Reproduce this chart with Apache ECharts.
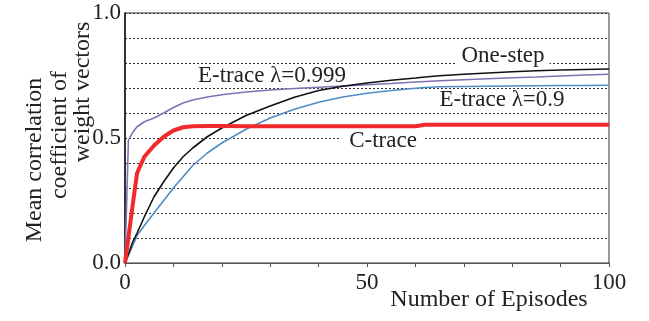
<!DOCTYPE html>
<html>
<head>
<meta charset="utf-8">
<script src="https://cdn.jsdelivr.net/npm/echarts@6/dist/echarts.min.js"></script>
<style>
  html, body { margin: 0; padding: 0; background: #fff; }
  #chart { width: 649px; height: 321px; }
</style>
</head>
<body>
<div id="chart"></div>
<script>
// episodes shared by all curves
var episodes = [0, 0.7, 1.5, 2.5, 4, 6, 8, 10, 12, 14, 17, 20, 25, 30, 35, 40, 45, 50, 55, 60, 62, 65, 70, 75, 80, 85, 90, 95, 100];

var oneStep = [0, 0.035, 0.08, 0.12, 0.185, 0.265, 0.325, 0.38, 0.425, 0.46, 0.505, 0.54, 0.59, 0.628, 0.663, 0.69, 0.707, 0.72, 0.731, 0.74, 0.744, 0.749, 0.755, 0.76, 0.765, 0.769, 0.772, 0.774, 0.776];
var eTrace999 = [0, 0.49, 0.52, 0.545, 0.565, 0.58, 0.60, 0.622, 0.64, 0.652, 0.664, 0.673, 0.684, 0.692, 0.698, 0.703, 0.708, 0.713, 0.718, 0.724, 0.726, 0.729, 0.733, 0.737, 0.741, 0.744, 0.748, 0.752, 0.755];
var eTrace09 = [0, 0.03, 0.065, 0.11, 0.15, 0.2, 0.25, 0.3, 0.345, 0.39, 0.44, 0.48, 0.535, 0.58, 0.615, 0.643, 0.664, 0.679, 0.69, 0.699, 0.702, 0.705, 0.706, 0.707, 0.708, 0.709, 0.71, 0.71, 0.711];
var cTrace = [0, 0.1, 0.22, 0.36, 0.425, 0.47, 0.505, 0.53, 0.543, 0.547, 0.548, 0.548, 0.547, 0.547, 0.547, 0.547, 0.547, 0.547, 0.547, 0.547, 0.553, 0.553, 0.553, 0.553, 0.553, 0.553, 0.553, 0.553, 0.553];

var xTickLabels = [0, 50, 100];
var yTickLabels = [0, 0.5, 1.0];

var serif = 'Liberation Serif';

function pairs(vals) {
  return episodes.map(function (e, i) { return [e, vals[i]]; });
}

function label(text, x, y, opts) {
  opts = opts || {};
  var st = {
    text: text, fontFamily: serif, fontSize: opts.size || 23, fill: '#222',
    align: 'center', verticalAlign: 'middle'
  };
  if (opts.bg) { st.backgroundColor = '#fff'; st.padding = opts.bg; }
  return { type: 'text', x: x, y: y, rotation: opts.rot || 0, z: 100, style: st };
}

var myChart = echarts.init(document.getElementById('chart'));

var option = {
  animation: false,
  grid: {
    left: 125, right: 40, top: 13, bottom: 58,
    show: true, borderColor: '#333', borderWidth: 1
  },
  xAxis: {
    type: 'value', min: 0, max: 100, interval: 10,
    axisLine: { lineStyle: { color: '#555', width: 1.2 } },
    axisTick: { show: true, inside: false, length: 4, lineStyle: { color: '#555' } },
    axisLabel: {
      margin: 8, color: '#222', fontFamily: serif, fontSize: 23,
      formatter: function (v) { return xTickLabels.indexOf(v) >= 0 ? String(v) : ''; }
    },
    splitLine: { show: false }
  },
  yAxis: {
    type: 'value', min: 0, max: 1, interval: 0.1,
    axisLine: { show: true, lineStyle: { color: '#111', width: 1.5 } },
    axisTick: { show: false },
    axisLabel: {
      margin: 4, color: '#222', fontFamily: serif, fontSize: 23,
      formatter: function (v) {
        var r = Math.round(v * 10) / 10;
        return yTickLabels.indexOf(r) >= 0 ? r.toFixed(1) : '';
      }
    },
    splitLine: { show: true, lineStyle: { color: '#333', width: 1, type: [2, 2] } }
  },
  series: [
    { name: 'E-trace 0.9', type: 'line', data: pairs(eTrace09), showSymbol: false,
      lineStyle: { color: '#4f8cc4', width: 1.6 }, z: 3 },
    { name: 'E-trace 0.999', type: 'line', data: pairs(eTrace999), showSymbol: false,
      lineStyle: { color: '#8271b3', width: 1.6 }, z: 3 },
    { name: 'One-step', type: 'line', data: pairs(oneStep), showSymbol: false,
      lineStyle: { color: '#111', width: 1.6 }, z: 4 },
    { name: 'C-trace', type: 'line', data: pairs(cTrace), showSymbol: false,
      lineStyle: { color: '#f02a2a', width: 4 }, z: 5 }
  ],
  graphic: [
    label('E-trace λ=0.999', 272, 76),
    label('One-step', 503, 56, { bg: [0, 5] }),
    label('E-trace λ=0.9', 502, 100),
    label('C-trace', 383, 141, { bg: [0, 8] }),
    label('Number of Episodes', 489, 300, { size: 24 }),
    label('Mean correlation', 35, 160, { rot: Math.PI / 2, size: 24 }),
    label('coefficient of', 60, 135, { rot: Math.PI / 2, size: 24 }),
    label('weight vectors', 83, 92, { rot: Math.PI / 2, size: 24 })
  ]
};

myChart.setOption(option);
</script>
</body>
</html>
